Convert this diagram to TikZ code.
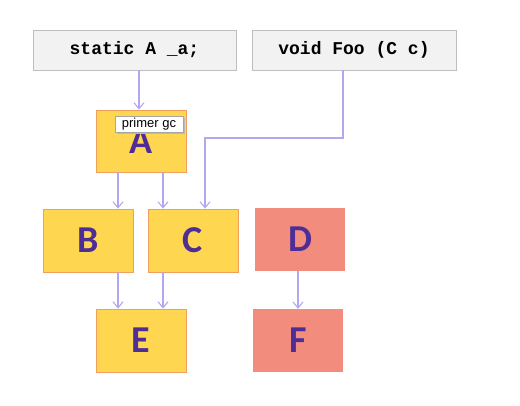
\documentclass[tikz,border=0pt]{standalone}
\usepackage{fontspec}
\setmainfont{Carlito}
\newfontfamily\codefont{Liberation Mono}
\newfontfamily\tipfont{Liberation Sans}
\usetikzlibrary{arrows.meta,shadows}
\definecolor{yel}{RGB}{255,214,79}
\definecolor{yelb}{RGB}{240,160,90}
\definecolor{sal}{RGB}{242,140,125}
\definecolor{letc}{RGB}{78,46,150}
\definecolor{arrc}{RGB}{180,167,240}
\definecolor{codefill}{RGB}{242,242,242}
\definecolor{codeline}{RGB}{190,190,190}
\tikzset{
  codebox/.style={draw=codeline,fill=codefill,line width=0.8pt,minimum width=203pt,minimum height=40pt,inner sep=0pt,font=\codefont\bfseries\fontsize{18}{20}\selectfont},
  ybox/.style={draw=yelb,fill=yel,line width=0.8pt,minimum width=90pt,minimum height=63pt,inner sep=0pt,text=letc,font=\bfseries\fontsize{38}{40}\selectfont},
  sbox/.style={fill=sal,minimum width=90pt,minimum height=63pt,inner sep=0pt,text=letc,font=\bfseries\fontsize{38}{40}\selectfont},
  arr/.style={draw=arrc,line width=1.1pt,-{Straight Barb[length=6pt,width=10pt,line width=1.1pt]}},
  tip/.style={draw=gray!70,fill=white,line width=0.6pt,minimum width=68pt,minimum height=16pt,inner sep=0pt,font=\tipfont\fontsize{13}{15}\selectfont,drop shadow={shadow xshift=2pt,shadow yshift=-2pt,fill=gray!55,opacity=1}}
}
\begin{document}
\begin{tikzpicture}[x=1pt,y=-1pt]
\useasboundingbox (0,0) rectangle (520,406);
\node[codebox] (st) at (134.5,50) {static A \_a;};
\node[codebox,minimum width=204pt] (foo) at (354,50) {void Foo (C c)};
\node[ybox,minimum height=62pt] (A) at (141,141) {A};
\node[ybox] (B) at (88,240.5) {B};
\node[ybox] (C) at (193,240.5) {C};
\node[sbox] (D) at (300,239.5) {D};
\node[ybox] (E) at (141,340.5) {E};
\node[sbox] (F) at (298,340.5) {F};
\coordinate (xa) at (139,0);
\coordinate (xl) at (118,0);
\coordinate (xr) at (163,0);
\coordinate (xf) at (343,0);
\coordinate (xc) at (205,0);
\coordinate (bend1) at (343,138);
\coordinate (bend2) at (205,138);
\draw[arr] (st.south -| xa) -- (A.north -| xa);
\draw[arr] (A.south -| xl) -- (B.north -| xl);
\draw[arr] (A.south -| xr) -- (C.north -| xr);
\draw[arr] (foo.south -| xf) -- (bend1) -- (bend2) -- (C.north -| xc);
\draw[arr] (B.south -| xl) -- (E.north -| xl);
\draw[arr] (C.south -| xr) -- (E.north -| xr);
\draw[arr] (D.south -| F) -- (F.north);
\node[tip] (t) at (149,124) {primer gc};
\end{tikzpicture}
\end{document}
